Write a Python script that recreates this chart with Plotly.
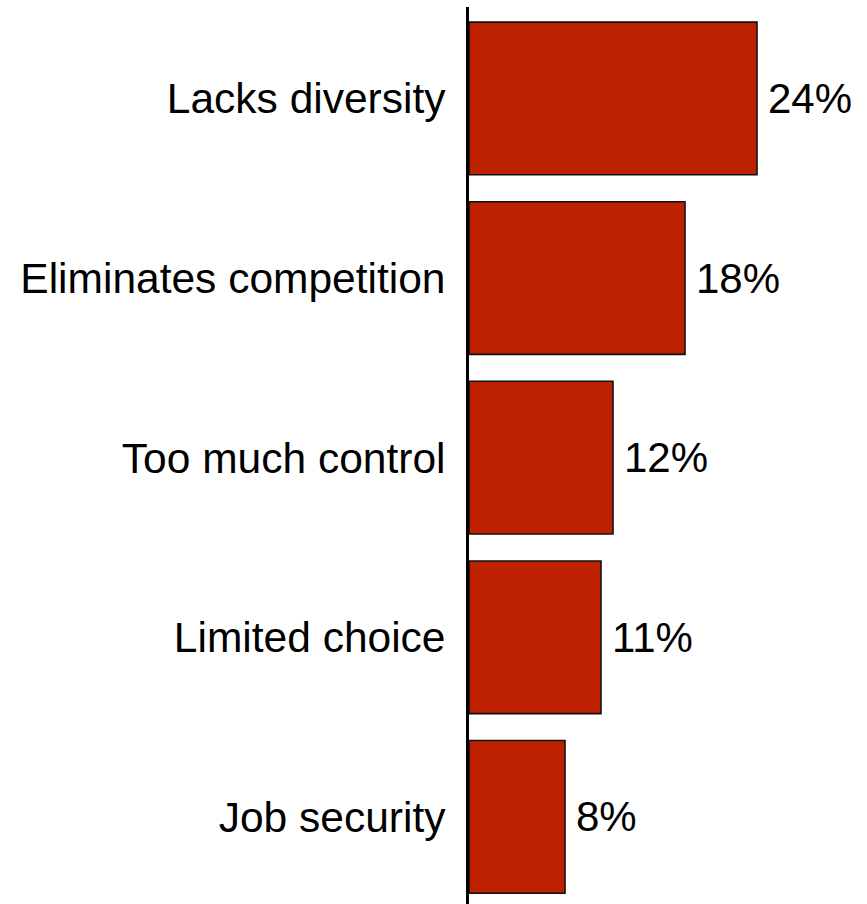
import plotly.graph_objects as go

categories = ["Lacks diversity", "Eliminates competition", "Too much control",
              "Limited choice", "Job security"]
values = [24, 18, 12, 11, 8]
value_labels = ["24%", "18%", "12%", "11%", "8%"]

bar_color = "#BE2100"
font_family = "Liberation Sans, Arial, sans-serif"

fig = go.Figure()
fig.add_trace(go.Bar(
    x=values,
    y=categories,
    orientation="h",
    width=0.85,
    marker=dict(color=bar_color, line=dict(color="#111111", width=1.6)),
    hoverinfo="skip",
))

# value labels just right of each bar end
for cat, val, lab in zip(categories, values, value_labels):
    fig.add_annotation(
        x=val, y=cat, text=lab, showarrow=False,
        xanchor="left", yanchor="middle", xshift=9,
        font=dict(family=font_family, size=42, color="black"),
    )

fig.update_layout(
    width=867, height=904,
    margin=dict(l=469, r=38, t=7, b=0),
    paper_bgcolor="white", plot_bgcolor="white",
    showlegend=False,
    font=dict(family=font_family, size=42, color="black"),
)
fig.update_xaxes(range=[0, 30], visible=False, showgrid=False, zeroline=False)
fig.update_yaxes(
    categoryorder="array", categoryarray=categories,
    range=[4.485, -0.509],
    showline=True, linecolor="black", linewidth=3,
    showgrid=False, zeroline=False, ticks="",
    ticklabelstandoff=12,
    tickfont=dict(family=font_family, size=42.5, color="black"),
    automargin=False,
)

fig.write_html("out.html")
